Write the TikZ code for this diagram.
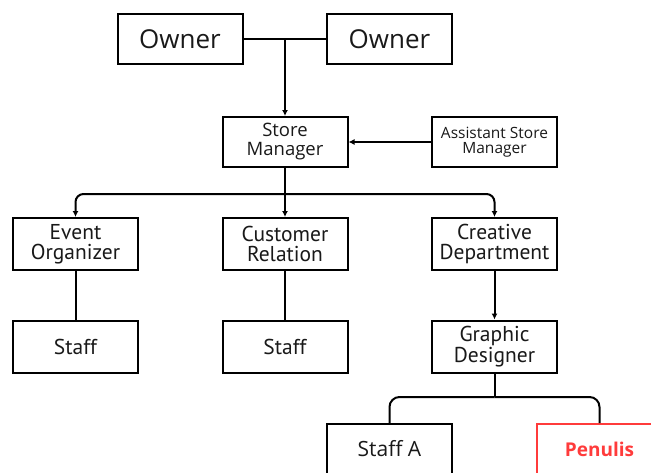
\documentclass[tikz,border=0pt]{standalone}
\usepackage{fontspec}
\setmainfont{Open Sans}
\newfontfamily\narrowfont{PT Sans}
\usetikzlibrary{arrows.meta}
\definecolor{penred}{HTML}{FF3B3B}

\begin{document}
\begin{tikzpicture}[x=1pt,y=-1pt,>={Latex[length=6pt,width=6pt]},
    box/.style={draw,line width=2pt,minimum width=125pt,minimum height=50pt,
      align=center,inner sep=1pt,text=black!90},
    conn/.style={line width=2pt},
    ]
    \useasboundingbox (0,0) rectangle (651,472);

    % top level
    \node[box,font=\fontsize{26}{28}\selectfont] (own1) at (180,39) {Owner};
    \node[box,font=\fontsize{26}{28}\selectfont] (own2) at (389.5,39) {Owner};
    \node[box,font=\fontsize{18.5}{19}\selectfont] (sm) at (285,142) {Store\\Manager};
    \node[box,font=\fontsize{15.5}{14.5}\selectfont] (asm) at (494.5,142) {Assistant Store\\Manager};

    % departments
    \node[box,minimum height=52pt,font=\narrowfont\fontsize{21.5}{20.5}\selectfont] (ev) at (75.5,244) {Event\\Organizer};
    \node[box,minimum height=52pt,font=\narrowfont\fontsize{21.5}{20.5}\selectfont] (cr) at (285,244) {Customer\\Relation};
    \node[box,minimum height=52pt,font=\narrowfont\fontsize{21.5}{20.5}\selectfont] (cd) at (494.5,244) {Creative\\Department};

    \node[box,minimum height=52pt,font=\narrowfont\fontsize{21.5}{20.5}\selectfont] (st1) at (75.5,346.5) {Staff};
    \node[box,minimum height=52pt,font=\narrowfont\fontsize{21.5}{20.5}\selectfont] (st2) at (285,346.5) {Staff};
    \node[box,minimum height=52pt,font=\narrowfont\fontsize{21.5}{20.5}\selectfont] (gd) at (494.5,346.5) {Graphic\\Designer};

    % bottom
    \node[box,font=\fontsize{21}{21}\selectfont] (sa) at (389.5,449) {Staff A};
    \node[box,draw=penred,text=penred,font=\bfseries\fontsize{19}{19}\selectfont] (pen) at (599.5,449) {Penulis};

    \coordinate (j) at (285,39);
    \coordinate (split) at (285,194);
    \coordinate (split2) at (494.5,397);

    \draw[conn] (own1) -- (own2);
    \draw[conn,->] (j) -- (sm);
    \draw[conn,->] (asm) -- (sm);
    \draw[conn,->] (sm) -- (cr);
    \draw[conn,->,rounded corners=8pt] (split) -| (ev);
    \draw[conn,->,rounded corners=8pt] (split) -| (cd);
    \draw[conn] (ev) -- (st1);
    \draw[conn] (cr) -- (st2);
    \draw[conn,->] (cd) -- (gd);
    \draw[conn] (gd) -- (split2);
    \draw[conn,rounded corners=10pt] (split2) -| (sa);
    \draw[conn,rounded corners=10pt] (split2) -| (pen);
\end{tikzpicture}
\end{document}
